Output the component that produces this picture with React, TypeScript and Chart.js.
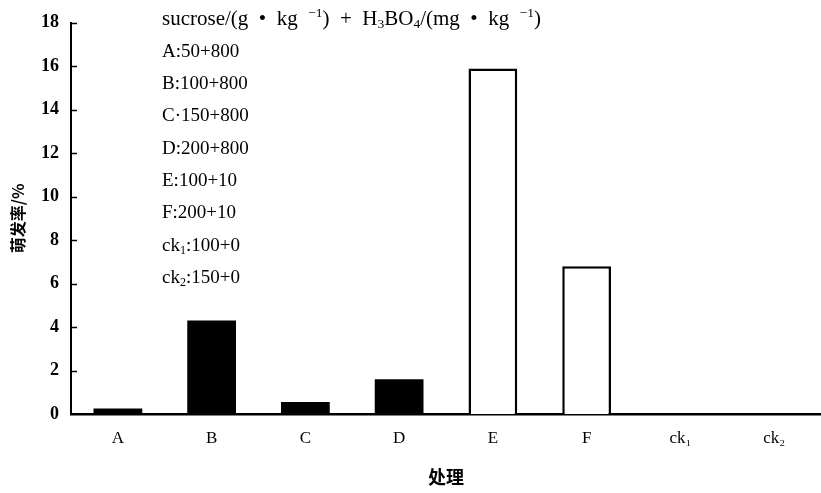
import React, { useEffect, useRef } from "react";
import { Chart, registerables } from "chart.js";

Chart.register(...registerables);

const CATEGORIES = ["A", "B", "C", "D", "E", "F", "ck₁", "ck₂"];
const GERMINATION = [0.25, 4.3, 0.55, 1.6, 15.9, 6.8, 0, 0];
const BAR_FILL = ["#000", "#000", "#000", "#000", "#fff", "#fff", "#000", "#000"];
const BAR_BORDER = [0, 0, 0, 0, 2.5, 2.5, 0, 0];
const Y_MIN = 0;
const Y_MAX = 18;
const Y_STEP = 2;
const Y_TITLE = "萌发率/%";
const X_TITLE = "处理";
// each line: [text, mode] where mode is "" | "sub" | "sup"
const LEGEND_LINES: [string, string][][] = [
  [["sucrose/(g  •  kg  ", ""], ["−1", "sup"], [")  +  H", ""], ["3", "sub"], ["BO", ""], ["4", "sub"], ["/(mg  •  kg  ", ""], ["−1", "sup"], [")", ""]],
  [["A:50+800", ""]],
  [["B:100+800", ""]],
  [["C·150+800", ""]],
  [["D:200+800", ""]],
  [["E:100+10", ""]],
  [["F:200+10", ""]],
  [["ck", ""], ["1", "sub"], [":100+0", ""]],
  [["ck", ""], ["2", "sub"], [":150+0", ""]],
];

const SERIF = "'Liberation Serif', 'Times New Roman', serif";
const CJK = "'Noto Sans CJK SC', sans-serif";

const legendPlugin = {
  id: "legendText",
  afterDraw(chart: any) {
    const ctx = chart.ctx;
    ctx.save();
    ctx.fillStyle = "#000";
    ctx.textBaseline = "middle";
    ctx.textAlign = "left";
    const x0 = 162;
    const y0 = 19.5;
    const dy = 32.3;
    LEGEND_LINES.forEach((line, i) => {
      let x = x0;
      const y = y0 + i * dy;
      const main = i === 0 ? 21 : 19;
      const small = i === 0 ? 13.5 : 12;
      line.forEach(([t, mode]) => {
        if (mode === "sub") {
          ctx.font = `${small}px ${SERIF}`;
          ctx.fillText(t, x, y + 5);
        } else if (mode === "sup") {
          ctx.font = `${small}px ${SERIF}`;
          ctx.fillText(t, x, y - 6);
        } else {
          ctx.font = `${main}px ${SERIF}`;
          ctx.fillText(t, x, y);
        }
        x += ctx.measureText(t).width;
      });
    });
    ctx.restore();
  },
};

const inwardTicksPlugin = {
  id: "inwardTicks",
  afterDraw(chart: any) {
    const ctx = chart.ctx;
    const ys = chart.scales.y;
    ctx.save();
    ctx.strokeStyle = "#000";
    ctx.lineWidth = 1.5;
    ys.ticks.forEach((t: any) => {
      const py = Math.round(ys.getPixelForValue(t.value)) + 0.5;
      if (t.value === Y_MIN) return;
      ctx.beginPath();
      ctx.moveTo(ys.right, py);
      ctx.lineTo(ys.right + 6, py);
      ctx.stroke();
    });
    ctx.restore();
  },
};

export default function App() {
  const ref = useRef<HTMLCanvasElement>(null);
  useEffect(() => {
    if (!ref.current) return;
    const chart = new Chart(ref.current, {
      type: "bar",
      data: {
        labels: CATEGORIES,
        datasets: [
          {
            data: GERMINATION,
            backgroundColor: BAR_FILL,
            borderColor: "#000",
            borderWidth: BAR_BORDER,
            barPercentage: 0.52,
            categoryPercentage: 1,
          },
        ],
      },
      options: {
        animation: false,
        responsive: false,
        devicePixelRatio: 1,
        layout: { padding: { top: 18, right: 0, bottom: 0, left: 0 } },
        plugins: { legend: { display: false }, tooltip: { enabled: false } },
        scales: {
          x: {
            grid: { display: false, drawTicks: false },
            border: { display: true, color: "#000", width: 2.5 },
            ticks: { color: "#000", font: { family: SERIF, size: 17 }, padding: 14 },
            title: { display: true, text: X_TITLE, color: "#000", font: { family: CJK, size: 18, weight: "bold" }, padding: { top: 0, bottom: 5 } },
            afterFit(scale: any) {
              scale.height = 79;
            },
          },
          y: {
            min: Y_MIN,
            max: Y_MAX,
            grid: { display: false, drawTicks: false },
            border: { display: true, color: "#000", width: 2 },
            ticks: { stepSize: Y_STEP, color: "#000", font: { family: SERIF, size: 18, weight: "bold" }, padding: 12 },
            title: { display: true, text: Y_TITLE, color: "#000", font: { family: CJK, size: 16, weight: "bold" }, padding: { top: 8, bottom: 0 } },
            afterFit(scale: any) {
              scale.width = 71;
            },
          },
        },
      },
      plugins: [legendPlugin, inwardTicksPlugin],
    });
    return () => chart.destroy();
  }, []);
  return (
    <div style={{ position: "absolute", left: 0, top: 0, width: 821, height: 493, background: "#fff" }}>
      <canvas ref={ref} width={821} height={493} style={{ display: "block" }} />
    </div>
  );
}
